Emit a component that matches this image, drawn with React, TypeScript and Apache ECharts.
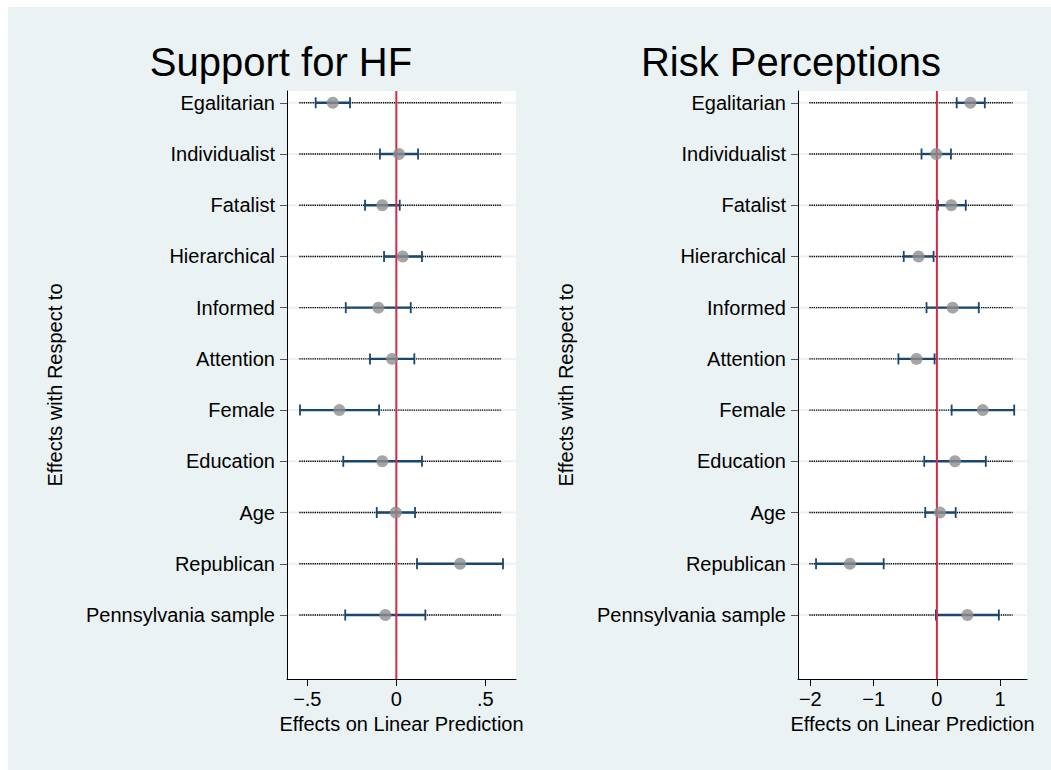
import React, { useEffect, useRef } from "react";
import * as echarts from "echarts";

const categories = [
  "Egalitarian",
  "Individualist",
  "Fatalist",
  "Hierarchical",
  "Informed",
  "Attention",
  "Female",
  "Education",
  "Age",
  "Republican",
  "Pennsylvania sample",
];

const hfEst = [-0.357, 0.015, -0.079, 0.036, -0.101, -0.024, -0.32, -0.079, -0.003, 0.358, -0.062];
const hfLow = [-0.453, -0.092, -0.176, -0.069, -0.284, -0.148, -0.541, -0.298, -0.11, 0.116, -0.287];
const hfHigh = [-0.26, 0.122, 0.019, 0.144, 0.081, 0.101, -0.097, 0.144, 0.105, 0.599, 0.163];
const hfDotRange = [-0.545, 0.592];
const hfTicks = [-0.5, 0, 0.5];
const hfTickLabels = ["\u2212.5", "0", ".5"];

const rpEst = [0.53, -0.01, 0.228, -0.29, 0.249, -0.322, 0.725, 0.286, 0.048, -1.375, 0.483];
const rpLow = [0.313, -0.243, 0.016, -0.524, -0.164, -0.608, 0.233, -0.2, -0.184, -1.91, -0.016];
const rpHigh = [0.757, 0.222, 0.456, -0.052, 0.662, -0.037, 1.222, 0.773, 0.297, -0.841, 0.979];
const rpDotRange = [-2.016, 1.197];
const rpTicks = [-2, -1, 0, 1];
const rpTickLabels = ["\u22122", "\u22121", "0", "1"];

const titles = ["Support for HF", "Risk Perceptions"];
const xTitle = "Effects on Linear Prediction";
const yTitle = "Effects with Respect to";

const FONT = "'Liberation Sans', Arial, Helvetica, sans-serif";
const BG = "#EAF2F3";

export default function App() {
  const ref = useRef<HTMLDivElement>(null);

  useEffect(() => {
    document.documentElement.style.overflow = "hidden";
    const chart = echarts.init(ref.current!, null, { renderer: "svg" });
    const rowValues = categories.map((_, i) => i + 1);

    const panels = [
      { est: hfEst, low: hfLow, high: hfHigh, dot: hfDotRange, ticks: hfTicks, labels: hfTickLabels, min: -0.614, max: 0.672, left: 287 },
      { est: rpEst, low: rpLow, high: rpHigh, dot: rpDotRange, ticks: rpTicks, labels: rpTickLabels, min: -2.195, max: 1.424, left: 798 },
    ];

    const grids = panels.map((p) => ({ left: p.left, top: 91, width: 229, height: 588, backgroundColor: "#fff", show: true, borderWidth: 0 }));

    const xAxes = panels.map((p, k) => ({
      type: "value",
      gridIndex: k,
      min: p.min,
      max: p.max,
      splitLine: { show: false },
      axisLine: { show: true, onZero: false, lineStyle: { color: "#000", width: 1 } },
      axisTick: { show: true, length: 7, customValues: p.ticks, lineStyle: { color: "#000" } },
      axisLabel: {
        customValues: p.ticks,
        margin: 10,
        fontSize: 20,
        fontFamily: FONT,
        color: "#000",
        formatter: (v: number) => {
          const idx = p.ticks.findIndex((t) => Math.abs(t - v) < 1e-9);
          return idx >= 0 ? p.labels[idx] : "";
        },
      },
      name: xTitle,
      nameLocation: "middle",
      nameGap: 30,
      nameTextStyle: { fontSize: 20, fontFamily: FONT, color: "#000" },
    }));

    const yAxes = panels.map((p, k) => ({
      type: "value",
      gridIndex: k,
      inverse: true,
      min: 0.77,
      max: 12.25,
      splitLine: { show: false },
      axisLine: { show: true, onZero: false, lineStyle: { color: "#000", width: 1 } },
      axisTick: { show: true, length: 7, customValues: rowValues, lineStyle: { color: "#555" } },
      axisLabel: {
        customValues: rowValues,
        margin: 12,
        fontSize: 20,
        fontFamily: FONT,
        color: "#000",
        formatter: (v: number) => categories[Math.round(v) - 1] ?? "",
      },
      name: yTitle,
      nameLocation: "middle",
      nameRotate: 90,
      nameGap: 222,
      nameTextStyle: { fontSize: 20, fontFamily: FONT, color: "#000" },
    }));

    const series: any[] = [];
    panels.forEach((p, k) => {
      series.push({
        type: "custom",
        xAxisIndex: k,
        yAxisIndex: k,
        z: 2,
        silent: true,
        data: categories.map((_, i) => [i + 1, p.low[i], p.high[i]]),
        encode: { x: [1, 2], y: 0 },
        renderItem: (params: any, api: any) => {
          const y = api.value(0);
          const lo = api.coord([api.value(1), y]);
          const hi = api.coord([api.value(2), y]);
          const d0 = api.coord([p.dot[0], y]);
          const d1 = api.coord([p.dot[1], y]);
          const cs = params.coordSys;
          const yc = lo[1];
          return {
            type: "group",
            children: [
              { type: "line", shape: { x1: cs.x + 1, y1: yc, x2: cs.x + cs.width, y2: yc }, style: { stroke: BG, lineWidth: 2 } },
              { type: "line", shape: { x1: d0[0], y1: yc, x2: d1[0], y2: yc }, style: { stroke: "#000", lineWidth: 1.4, lineDash: [1.3, 0.9] } },
              { type: "line", shape: { x1: lo[0], y1: yc, x2: hi[0], y2: yc }, style: { stroke: "#1A476F", lineWidth: 2.4 } },
              { type: "line", shape: { x1: lo[0], y1: yc - 5.5, x2: lo[0], y2: yc + 5.5 }, style: { stroke: "#1A476F", lineWidth: 1.8 } },
              { type: "line", shape: { x1: hi[0], y1: yc - 5.5, x2: hi[0], y2: yc + 5.5 }, style: { stroke: "#1A476F", lineWidth: 1.8 } },
            ],
          };
        },
      });
      series.push({
        type: "custom",
        xAxisIndex: k,
        yAxisIndex: k,
        z: 3,
        silent: true,
        data: [[0, 1]],
        encode: { x: 0, y: 1 },
        renderItem: (params: any, api: any) => {
          const cs = params.coordSys;
          const pt = api.coord([0, 1]);
          return {
            type: "line",
            shape: { x1: pt[0], y1: cs.y, x2: pt[0], y2: cs.y + cs.height },
            style: { stroke: "#D42A44", lineWidth: 2 },
          };
        },
      });
      series.push({
        type: "scatter",
        xAxisIndex: k,
        yAxisIndex: k,
        z: 4,
        symbol: "circle",
        symbolSize: 12,
        itemStyle: { color: "#8E8E8E" },
        data: categories.map((_, i) => [p.est[i], i + 1]),
      });
    });

    chart.setOption({
      animation: false,
      backgroundColor: BG,
      grid: grids,
      xAxis: xAxes,
      yAxis: yAxes,
      series,
      graphic: [
        { type: "rect", shape: { x: 0, y: 0, width: 1051, height: 7 }, style: { fill: "#fff" }, silent: true },
        { type: "rect", shape: { x: 0, y: 0, width: 8, height: 770 }, style: { fill: "#fff" }, silent: true },
        { type: "text", x: 281, y: 42, style: { text: titles[0], font: `40px ${FONT}`, fill: "#000", textAlign: "center", textVerticalAlign: "top" } },
        { type: "text", x: 791, y: 42, style: { text: titles[1], font: `40px ${FONT}`, fill: "#000", textAlign: "center", textVerticalAlign: "top" } },
      ],
    });

    return () => {
      chart.dispose();
    };
  }, []);

  return <div ref={ref} style={{ position: "fixed", left: 0, top: 0, width: 1051, height: 770 }} />;
}
